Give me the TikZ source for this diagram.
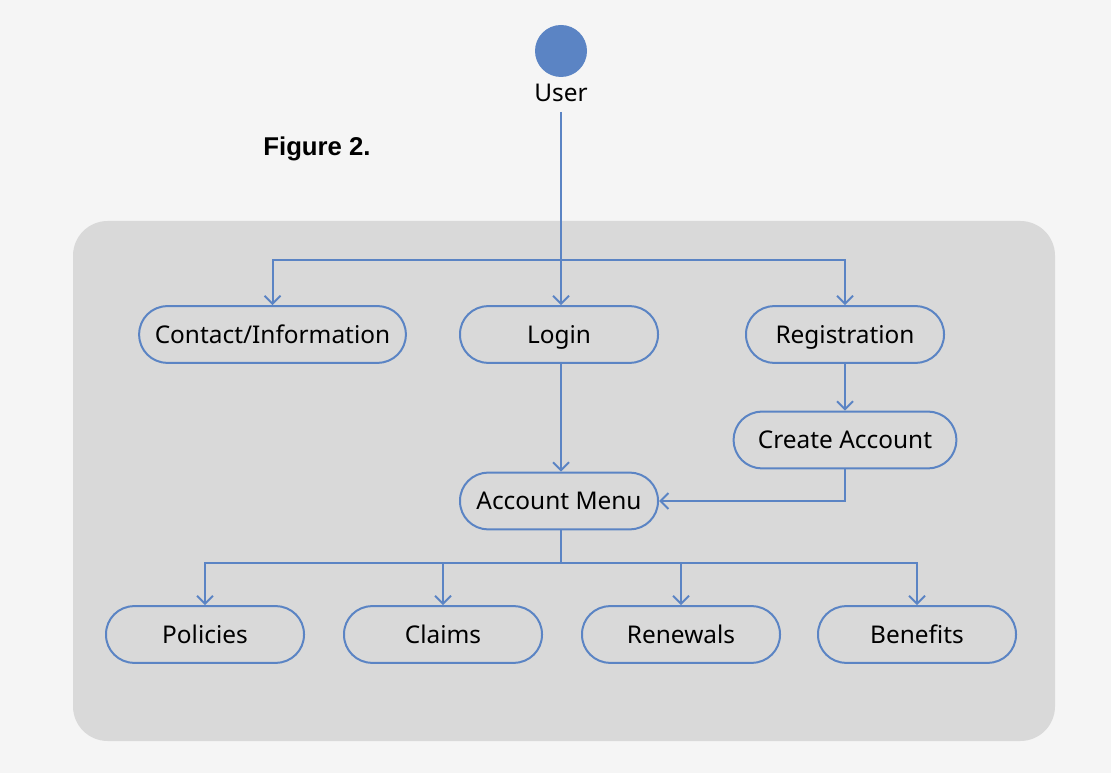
\documentclass[tikz,border=0pt]{standalone}
\usepackage{fontspec}
\setmainfont{Noto Sans}
\newfontfamily\figfont{Liberation Sans}
\usetikzlibrary{arrows.meta}
\definecolor{bg}{HTML}{F5F5F5}
\definecolor{panel}{HTML}{D9D9D9}
\definecolor{ln}{HTML}{5B84C4}
\tikzset{
  lbl/.style={font=\fontsize{18.3}{20}\selectfont, text=black},
  box/.style={lbl, draw=ln, line width=1.5pt, rounded corners=21pt, minimum height=42.5pt, inner sep=0pt, text height=14.5pt, text depth=1.5pt},
  conn/.style={draw=ln, line width=1.5pt},
  arr/.style={conn, -{Straight Barb[length=6pt,width=12pt,line width=1.5pt]}},
}
\begin{document}
\begin{tikzpicture}[x=0.75pt,y=-0.75pt]
\useasboundingbox (0,0) rectangle (1111,773);
\fill[bg] (0,0) rectangle (1111,773);
\fill[panel, rounded corners=26pt] (73,221) rectangle (1055,741);
\node[circle, fill=ln, minimum size=39pt, inner sep=0pt] (user) at (561,51) {};
\node[lbl] (userlbl) at (561,93) {User};
\node[font=\figfont\bfseries\fontsize{19.3}{22}\selectfont] (fig) at (317,149) {Figure 2.};
\node[box, minimum width=200pt] (contact) at (272.5,334.5) {Contact/Information};
\node[box, minimum width=148.5pt] (login) at (559,334.5) {Login};
\node[box, minimum width=148.5pt] (reg) at (845,334.5) {Registration};
\node[box, minimum width=167pt] (create) at (845,440) {Create Account};
\node[box, minimum width=148.5pt] (menu) at (559,501) {Account Menu};
\node[box, minimum width=148.5pt] (pol) at (205,634.5) {Policies};
\node[box, minimum width=148.5pt] (cla) at (443,634.5) {Claims};
\node[box, minimum width=148.5pt] (ren) at (681,634.5) {Renewals};
\node[box, minimum width=148.5pt] (ben) at (917,634.5) {Benefits};
\coordinate (ustart) at (561,112);
\coordinate (top) at (561,260);
\coordinate (mid) at (561,563);
\draw[arr] (ustart) -- (ustart |- login.north);
\draw[arr] (top) -| (contact.north);
\draw[arr] (top) -| (reg.north);
\draw[arr] (login.south -| ustart) -- (menu.north -| ustart);
\draw[arr] (reg) -- (create);
\draw[arr] (create.south) |- (menu.east);
\draw[conn] (menu.south -| ustart) -- (mid);
\draw[arr] (mid) -| (pol.north);
\draw[arr] (mid) -| (cla.north);
\draw[arr] (mid) -| (ren.north);
\draw[arr] (mid) -| (ben.north);
\end{tikzpicture}
\end{document}
